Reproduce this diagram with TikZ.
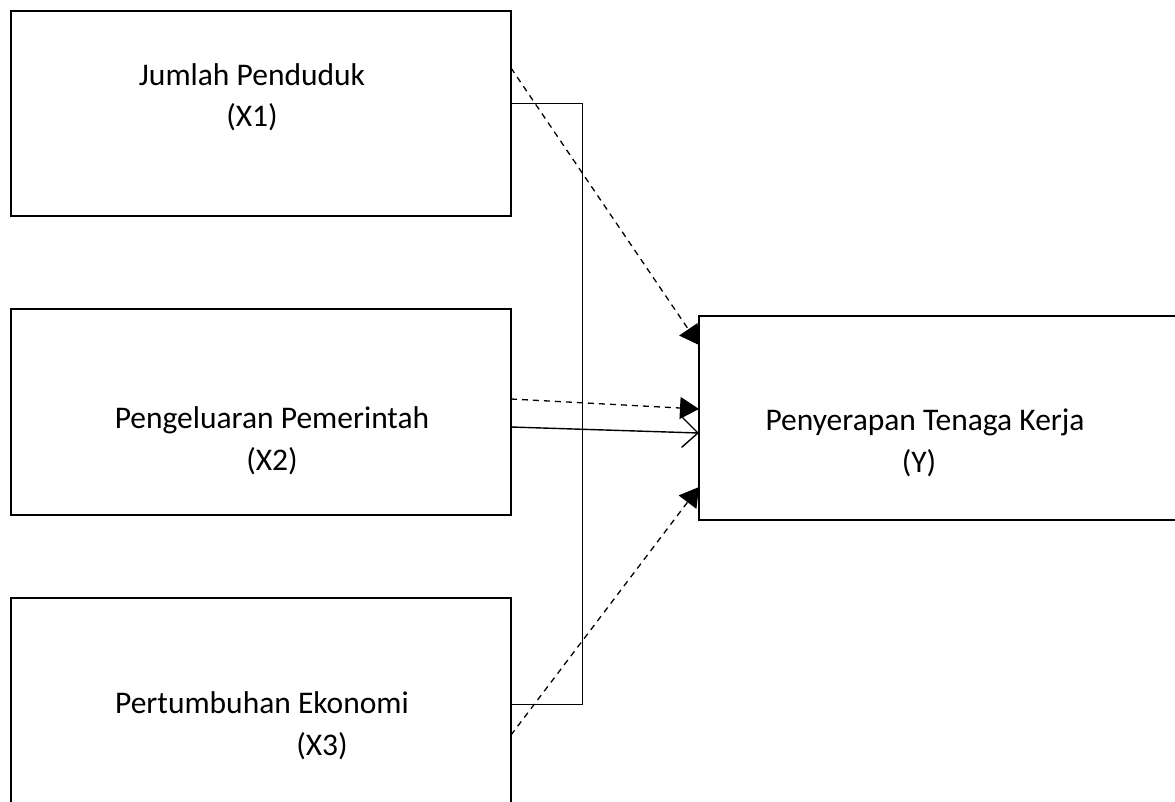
\documentclass[tikz,border=0pt]{standalone}
\usepackage{fontspec}
\setmainfont{Carlito}
\usetikzlibrary{arrows.meta}
\begin{document}
\begin{tikzpicture}[x=1pt,y=-1pt,
  boxnode/.style={draw,line width=1.6pt,rectangle,outer sep=0pt,inner sep=0pt},
  label/.style={anchor=base,inner sep=0pt,font=\fontsize{31.5}{41}\selectfont},
  bracketline/.style={line width=1pt},
  dasharrow/.style={line width=1.3pt,dash pattern=on 6pt off 5pt,-{Triangle[length=19pt,width=22pt]}},
  solidarrow/.style={line width=1.4pt,-{Straight Barb[length=16pt,width=30pt,line width=1.4pt]}}]
\useasboundingbox (0,0) rectangle (1175,801);
\clip (0,0) rectangle (1175,801);
\fill[white] (0,0) rectangle (1175,801);
% boxes
\node[boxnode,minimum width=500pt,minimum height=205pt] (x1) at (261,113.5) {};
\node[boxnode,minimum width=500pt,minimum height=206pt] (x2) at (261,412) {};
\node[boxnode,minimum width=500pt,minimum height=208pt] (x3) at (261,702) {};
\node[boxnode,minimum width=481pt,minimum height=204pt] (y) at (939.5,418) {};
% texts
\node[label] (t1a) at (252,85) {Jumlah Penduduk};
\node[label] (t1b) at (252,126) {(X1)};
\node[label] (t2a) at (272,428) {Pengeluaran Pemerintah};
\node[label] (t2b) at (272,470) {(X2)};
\node[label] (t3a) at (262,713) {Pertumbuhan Ekonomi};
\node[label] (t3b) at (322,755) {(X3)};
\node[label] (tya) at (925,430) {Penyerapan Tenaga Kerja};
\node[label] (tyb) at (919,472) {(Y)};
% bracket
\coordinate (br) at (582,704);
\draw[bracketline] (x1.east |- 0,103) -| (br) -- (x3.east |- br);
% arrows
\draw[dasharrow] (x1.east |- 0,68) -- (y.west |- 0,345);
\draw[dasharrow] (x2.east |- 0,399) -- (y.west |- 0,409);
\draw[solidarrow] (x2.east |- 0,427) -- (y.west |- 0,433);
\draw[dasharrow] (x3.east |- 0,735) -- (y.west |- 0,487);
\end{tikzpicture}
\end{document}
